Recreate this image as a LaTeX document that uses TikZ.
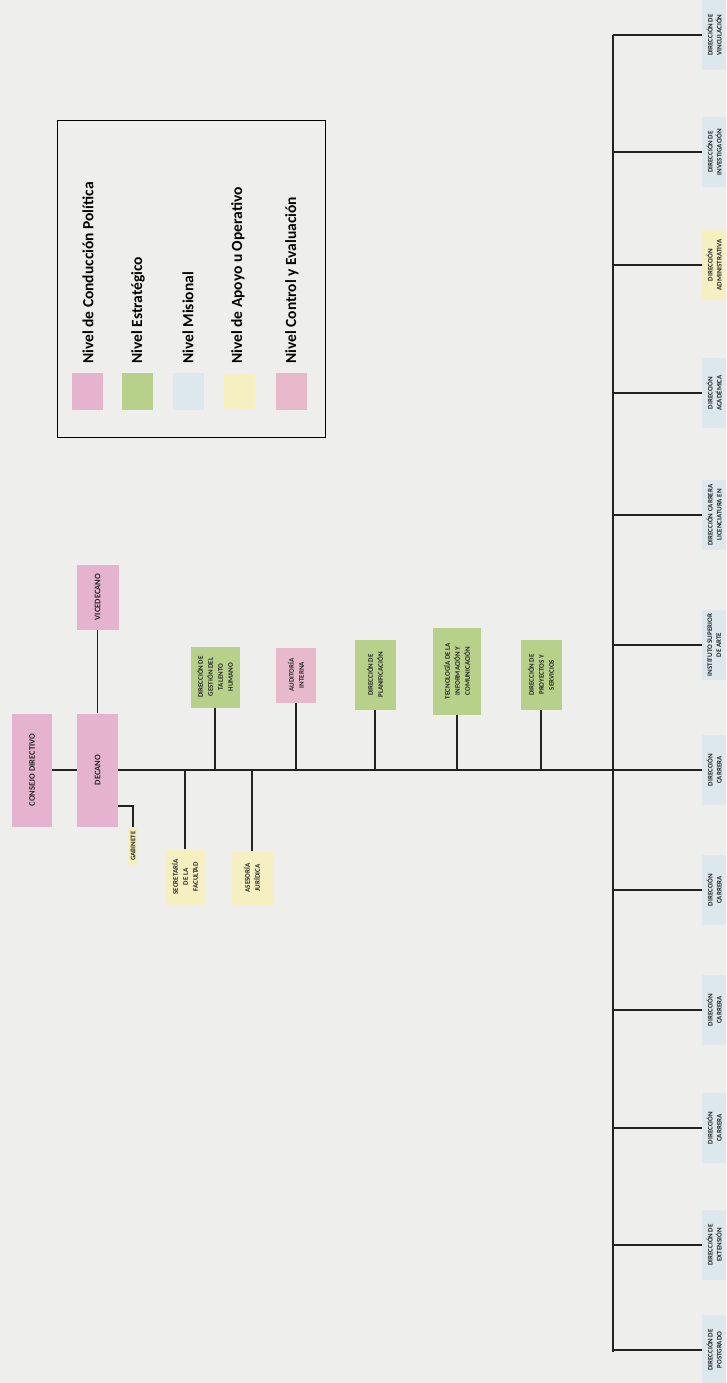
\documentclass[tikz,border=0pt]{standalone}
\usepackage{fontspec}
\setmainfont{Carlito}
\usepackage{xcolor}
\usepackage{tikz}
\usetikzlibrary{positioning}
\definecolor{paper}{HTML}{EEEEEC}
\definecolor{politica}{HTML}{E6B3CF}
\definecolor{estrategico}{HTML}{B7D08A}
\definecolor{misional}{HTML}{DCE8EC}
\definecolor{apoyo}{HTML}{F5EFC2}
\definecolor{control}{HTML}{E7B9CB}
\definecolor{linegray}{HTML}{222222}

\begin{document}
\begin{tikzpicture}[
  x=1pt, y=-1pt,
  unit/.style={
    rotate=90, inner sep=1pt, align=center,
    font=\fontsize{7}{10}\selectfont\bfseries, text=black!85
  },
  polbox/.style={unit, fill=politica, font=\fontsize{8.5}{10}\selectfont\bfseries},
  estbox/.style={unit, fill=estrategico},
  misbox/.style={unit, fill=misional, anchor=north, minimum width=70pt, minimum height=24pt, font=\fontsize{7}{9}\selectfont\bfseries},
  apobox/.style={unit, fill=apoyo},
  ctrlbox/.style={unit, fill=control},
  swatch/.style={minimum width=31pt, minimum height=37pt, inner sep=0pt},
  legtext/.style={rotate=90, anchor=west, font=\fontsize{15.5}{17}\selectfont\bfseries, inner sep=0pt},
  conn/.style={draw=linegray, line width=1.2pt}
]
  \fill[paper] (0,0) rectangle (726,1383);
  \useasboundingbox (0,0) rectangle (726,1383);

  \node[draw=black, line width=1.2pt, minimum width=268pt, minimum height=317pt, anchor=north west] (legend) at (57,120) {};
  \node[swatch, fill=politica] (swpol) at (87.5,391.5) {};
  \node[swatch, fill=estrategico] (swest) at (137.5,391.5) {};
  \node[swatch, fill=misional] (swmis) at (188,391.5) {};
  \node[swatch, fill=apoyo] (swapo) at (239,391.5) {};
  \node[swatch, fill=control] (swctrl) at (291,391.5) {};
  \node[legtext] (lgpol) at (88,364) {Nivel de Conducción Política};
  \node[legtext] (lgest) at (138,364) {Nivel Estratégico};
  \node[legtext] (lgmis) at (188,364) {Nivel Misional};
  \node[legtext] (lgapo) at (238,364) {Nivel de Apoyo u Operativo};
  \node[legtext] (lgctrl) at (292,364) {Nivel Control y Evaluación};

  \node[polbox, minimum width=113pt, minimum height=40pt] (consejo) at (32,770) {CONSEJO DIRECTIVO};
  \node[polbox, minimum width=113pt, minimum height=41pt] (decano) at (97.5,770) {DECANO};
  \node[polbox, minimum width=65pt, minimum height=42pt] (vicedecano) at (97.5,597) {VICEDECANO};
  \node[apobox, minimum width=38pt, minimum height=10pt, inner sep=0.5pt] (gabinete) at (133,846) {GABINETE};
  \node[apobox, minimum width=55pt, minimum height=40pt] (secretaria) at (185,877) {SECRETARÍA\\DE LA\\FACULTAD};
  \node[estbox, minimum width=61pt, minimum height=49pt] (talento) at (215,677) {DIRECCIÓN DE\\GESTIÓN DEL\\TALENTO\\HUMANO};
  \node[apobox, minimum width=53pt, minimum height=41pt] (asesoria) at (252,878) {ASESORÍA\\JURÍDICA};
  \node[ctrlbox, minimum width=55pt, minimum height=40pt] (auditoria) at (296,675) {AUDITORÍA\\INTERNA};
  \node[estbox, minimum width=70pt, minimum height=41pt] (planificacion) at (375,675) {DIRECCIÓN DE\\PLANIFICACIÓN};
  \node[estbox, minimum width=87pt, minimum height=48pt] (tic) at (457,671) {TECNOLOGÍA DE LA\\INFORMACIÓN Y\\COMUNICACIÓN};
  \node[estbox, minimum width=70pt, minimum height=41pt] (proyectos) at (541,675) {DIRECCIÓN DE\\PROYECTOS Y\\SERVICIOS};

  \coordinate (hub) at (613,770);
  \coordinate (bartop) at (613,35);
  \coordinate (barbot) at (613,1352);
  \coordinate (gabknee) at (133,806);

  \node[misbox] (dvinc) at (702,35) {DIRECCIÓN DE\\VINCULACIÓN};
  \node[misbox] (dinv) at (702,152) {DIRECCIÓN DE\\INVESTIGACIÓN};
  \node[misbox, fill=apoyo] (dadm) at (702,265) {DIRECCIÓN\\ADMINISTRATIVA};
  \node[misbox] (dacad) at (702,393) {DIRECCIÓN\\ACADÉMICA};
  \node[misbox] (dlic) at (702,515) {DIRECCIÓN CARRERA\\LICENCIATURA EN};
  \node[misbox] (iarte) at (702,645) {INSTITUTO SUPERIOR\\DE ARTE};
  \node[misbox] (dcarra) at (702,770) {DIRECCIÓN\\CARRERA};
  \node[misbox] (dcarrb) at (702,890) {DIRECCIÓN\\CARRERA};
  \node[misbox] (dcarrc) at (702,1010) {DIRECCIÓN\\CARRERA};
  \node[misbox] (dcarrd) at (702,1128) {DIRECCIÓN\\CARRERA};
  \node[misbox] (dext) at (702,1245) {DIRECCIÓN DE\\EXTENSIÓN};
  \node[misbox] (dpost) at (702,1350) {DIRECCIÓN DE\\POSTGRADO};

  \draw[conn] (consejo) -- (decano);
  \draw[conn] (vicedecano) -- (decano);
  \draw[conn] (decano) -- (hub);
  \draw[conn] (decano.south |- gabknee) -| (gabinete);
  \foreach \up in {talento, auditoria, planificacion, tic, proyectos, secretaria, asesoria}
    \draw[conn] (\up) -- (\up |- hub);
  \draw[conn] (bartop) -- (barbot);
  \foreach \dir in {dvinc, dinv, dadm, dacad, dlic, iarte, dcarra, dcarrb, dcarrc, dcarrd, dext, dpost}
    \draw[conn] (\dir -| bartop) -- (\dir);
\end{tikzpicture}
\end{document}
